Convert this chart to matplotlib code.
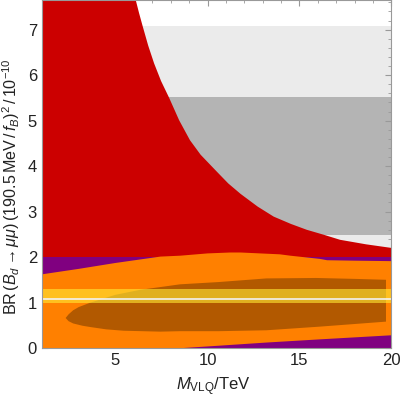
import numpy as np
import matplotlib
matplotlib.use("Agg")
import matplotlib.pyplot as plt

plt.rcParams['font.family'] = ['Liberation Sans', 'DejaVu Sans']
plt.rcParams['mathtext.fontset'] = 'custom'
plt.rcParams['mathtext.rm'] = 'Liberation Sans'
plt.rcParams['mathtext.it'] = 'Liberation Sans:italic'
plt.rcParams['mathtext.sf'] = 'Liberation Sans'

# experimental bands (BR in units of 1e-10)
light_band = (2.2, 7.07)
dark_band = (2.48, 5.51)
yellow_band = (1.0, 1.29)
sm_line = 1.07

# red excluded region: upper edge
red_x = [1.0, 6.08, 6.25, 6.44, 6.75, 7.07, 7.45, 7.89, 8.43, 9.02, 9.6,
         10.5, 11.1, 11.77, 12.7, 13.57, 14.5, 15.37, 16.3, 17.18, 18.6, 20.0]
red_top = [7.65, 7.65, 7.38, 7.1, 6.66, 6.27, 5.88, 5.51, 5.02, 4.58, 4.26,
           3.88, 3.63, 3.40, 3.12, 2.90, 2.74, 2.61, 2.50, 2.39, 2.29, 2.21]
red_bottom = 2.0

# purple region
purple_range = (0.0, 2.0)

# orange region
orange_x = [1.0, 3.0, 5.0, 7.44, 8.52, 10.0, 11.23, 11.8, 13.93, 14.5, 16.1,
            16.5, 18.0, 20.0]
orange_top = [1.62, 1.74, 1.87, 2.01, 2.03, 2.08, 2.10, 2.10, 2.06, 2.03,
              1.96, 1.93, 1.92, 1.91]
orange_low_x = [1.0, 8.7, 10.6, 13.2, 16.1, 20.0]
orange_low = [0.0, 0.0, 0.05, 0.12, 0.19, 0.28]

# dark orange region (closed contour)
dark_up_x = [2.29, 2.45, 2.7, 3.0, 3.65, 5.0, 6.35, 7.44, 8.5, 10.6, 13.2,
             15.9, 18.0, 19.7]
dark_up = [0.66, 0.74, 0.83, 0.9, 1.0, 1.17, 1.28, 1.34, 1.40, 1.45, 1.53,
           1.54, 1.52, 1.50]
dark_lo_x = [2.29, 2.45, 2.7, 3.2, 3.65, 4.5, 5.45, 7.44, 8.5, 10.6, 13.2,
             16.1, 19.7]
dark_lo = [0.66, 0.59, 0.54, 0.49, 0.46, 0.41, 0.38, 0.36, 0.37, 0.37, 0.39,
           0.47, 0.58]

fig = plt.figure(figsize=(4.01, 3.99), dpi=100)
ax = fig.add_axes([0.1045, 0.1278, 0.8718, 0.872])

xmin, xmax = 1.0, 20.0
ax.axhspan(*light_band, color='#ebebeb', lw=0, zorder=1)
ax.axhspan(*dark_band, color='#b4b4b4', lw=0, zorder=1)

ax.fill_between(red_x, red_bottom, red_top, color='#cc0000', lw=0, zorder=2)
ax.fill_between([xmin, xmax], *purple_range, color='#800080', lw=0, zorder=3)

ox = np.concatenate([orange_low_x, orange_x[::-1]])
oy = np.concatenate([orange_low, orange_top[::-1]])
ax.fill(ox, oy, color='#ff8000', lw=0, zorder=4)

dx = np.concatenate([dark_up_x, dark_lo_x[::-1]])
dy = np.concatenate([dark_up, dark_lo[::-1]])
ax.fill(dx, dy, color='#b25900', lw=0, zorder=5)

ax.axhspan(*yellow_band, color='#ffeb34', alpha=0.6, lw=0, zorder=6)
ax.axhline(sm_line, color='#f2f2f2', lw=1.2, zorder=7)

ax.set_xlim(xmin, xmax)
ax.set_ylim(0, 7.65)
ax.set_xticks([5, 10, 15, 20])
ax.set_xticks(np.arange(1, 21), minor=True)
ax.set_yticks(np.arange(0, 8))
ax.set_yticks(np.arange(0, 7.65, 0.2), minor=True)

ax.tick_params(which='both', direction='in', top=True, right=True,
               color='#999999', labelsize=12, labelcolor='#222222')
ax.tick_params(which='major', length=4, width=0.8)
ax.tick_params(which='minor', length=2.2, width=0.6)
for s in ax.spines.values():
    s.set_color('#999999')
    s.set_linewidth(0.8)
    s.set_zorder(10)

ax.set_xlabel(r'$M_{\mathrm{VLQ}}\!\,/\!\,\mathrm{TeV}$', fontsize=12,
              color='#222222')
ax.xaxis.set_label_coords(0.49, -0.078)
ax.set_ylabel(r'$\mathrm{BR}\,(B_d \to \mu\mu)\,(190.5\,\mathrm{MeV}\,/\,f_B)^2\,/\,10^{-10}$',
              fontsize=11.6, color='#222222')
ax.yaxis.set_label_coords(-0.056, 0.465)

plt.savefig('out.png', dpi=100)
